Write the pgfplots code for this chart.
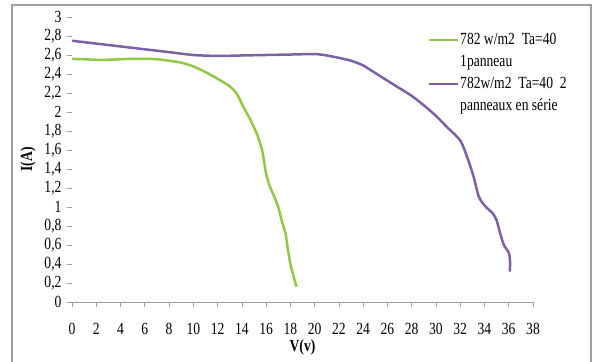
\documentclass[border=0pt]{standalone}
\usepackage{pgfplots}
\pgfplotsset{compat=1.18}
\usepackage{fontspec}
\setmainfont[FakeStretch=0.8]{Liberation Serif}
\definecolor{cgreen}{RGB}{146,200,72}
\definecolor{cpurple}{RGB}{125,96,166}
\definecolor{cframe}{RGB}{160,160,160}
\begin{document}
\begin{tikzpicture}[x=1pt,y=1pt]
\useasboundingbox (0,0) rectangle (593,361);
\draw[cframe,line width=1.5pt] (12,-10) -- (12,356) -- (591,356) -- (591,-10);
\begin{axis}[
  at={(72pt,59pt)}, anchor=origin,
  scale only axis, width=461pt, height=285pt,
  xmin=0, xmax=38, ymin=0, ymax=3,
  axis x line=bottom, axis y line=left,
  axis line style={-, cframe, line width=0.8pt},
  y axis line style={draw=none},
  xtick={0,2,...,38},
  ytick={0,0.2,0.4,0.6,0.8,1,1.2,1.4,1.6,1.8,2,2.2,2.4,2.6,2.8,3},
  tick align=outside, major tick length=5pt,
  tick style={cframe, line width=0.6pt},
  /pgf/number format/use comma,
  /pgf/number format/assume math mode=true,
  ticklabel style={font=\fontsize{17}{17}\selectfont},
  yticklabel style={xshift=-2pt},
  xticklabel style={yshift=-13pt},
  xlabel={\textbf{V(v)}},
  ylabel={\textbf{I(A)}},
  label style={font=\fontsize{17}{17}\selectfont},
  xlabel style={at={(rel axis cs:0.5,0)}, anchor=center, yshift=-45pt},
  ylabel style={at={(rel axis cs:0,0.5)}, anchor=center, yshift=44pt},
]
\addplot[cgreen, line width=2.5pt, smooth, tension=0.4] coordinates {
(0,2.56) (1,2.555) (2,2.55) (3,2.55) (4,2.555) (5,2.56) (6,2.56) (7,2.555) (8,2.54)
(9,2.52) (10,2.48) (11,2.42) (12,2.35) (13,2.27) (13.6,2.19) (14.1,2.06) (14.7,1.92)
(15.3,1.75) (15.7,1.58) (16,1.35) (16.3,1.22) (16.7,1.1) (17,1.0) (17.3,0.85)
(17.6,0.72) (17.8,0.55) (18,0.4) (18.2,0.3) (18.5,0.16)};
\addplot[cpurple, line width=2.5pt, smooth, tension=0.4] coordinates {
(0,2.75) (2,2.72) (4,2.69) (6,2.66) (8,2.63) (10,2.60) (12,2.59) (14,2.595)
(16,2.60) (18,2.605) (20,2.61) (21,2.595) (22,2.57) (23,2.54) (24,2.49) (25,2.41)
(26,2.33) (27,2.25) (28,2.17) (29,2.07) (30,1.96) (31,1.83) (31.5,1.77) (32,1.70)
(32.3,1.62) (32.7,1.48) (33.1,1.32) (33.5,1.12) (33.8,1.05) (34.2,0.99) (34.7,0.93)
(35.0,0.86) (35.3,0.72) (35.6,0.60) (36.0,0.52) (36.1,0.45) (36.1,0.32)};
\end{axis}
% legend
\begin{scope}[font=\fontsize{17}{17}\selectfont]
\draw[cgreen, line width=2.5pt] (429,321) -- (458,321);
\node[anchor=base west, inner sep=0pt] at (460,316) {782 w/m2\ \ Ta=40};
\node[anchor=base west, inner sep=0pt] at (460,294) {1panneau};
\draw[cpurple, line width=2.5pt] (429,277) -- (458,277);
\node[anchor=base west, inner sep=0pt] at (460,272) {782w/m2\ \ Ta=40\ \ 2};
\node[anchor=base west, inner sep=0pt] at (460,250) {panneaux en série};
\end{scope}
\end{tikzpicture}
\end{document}
